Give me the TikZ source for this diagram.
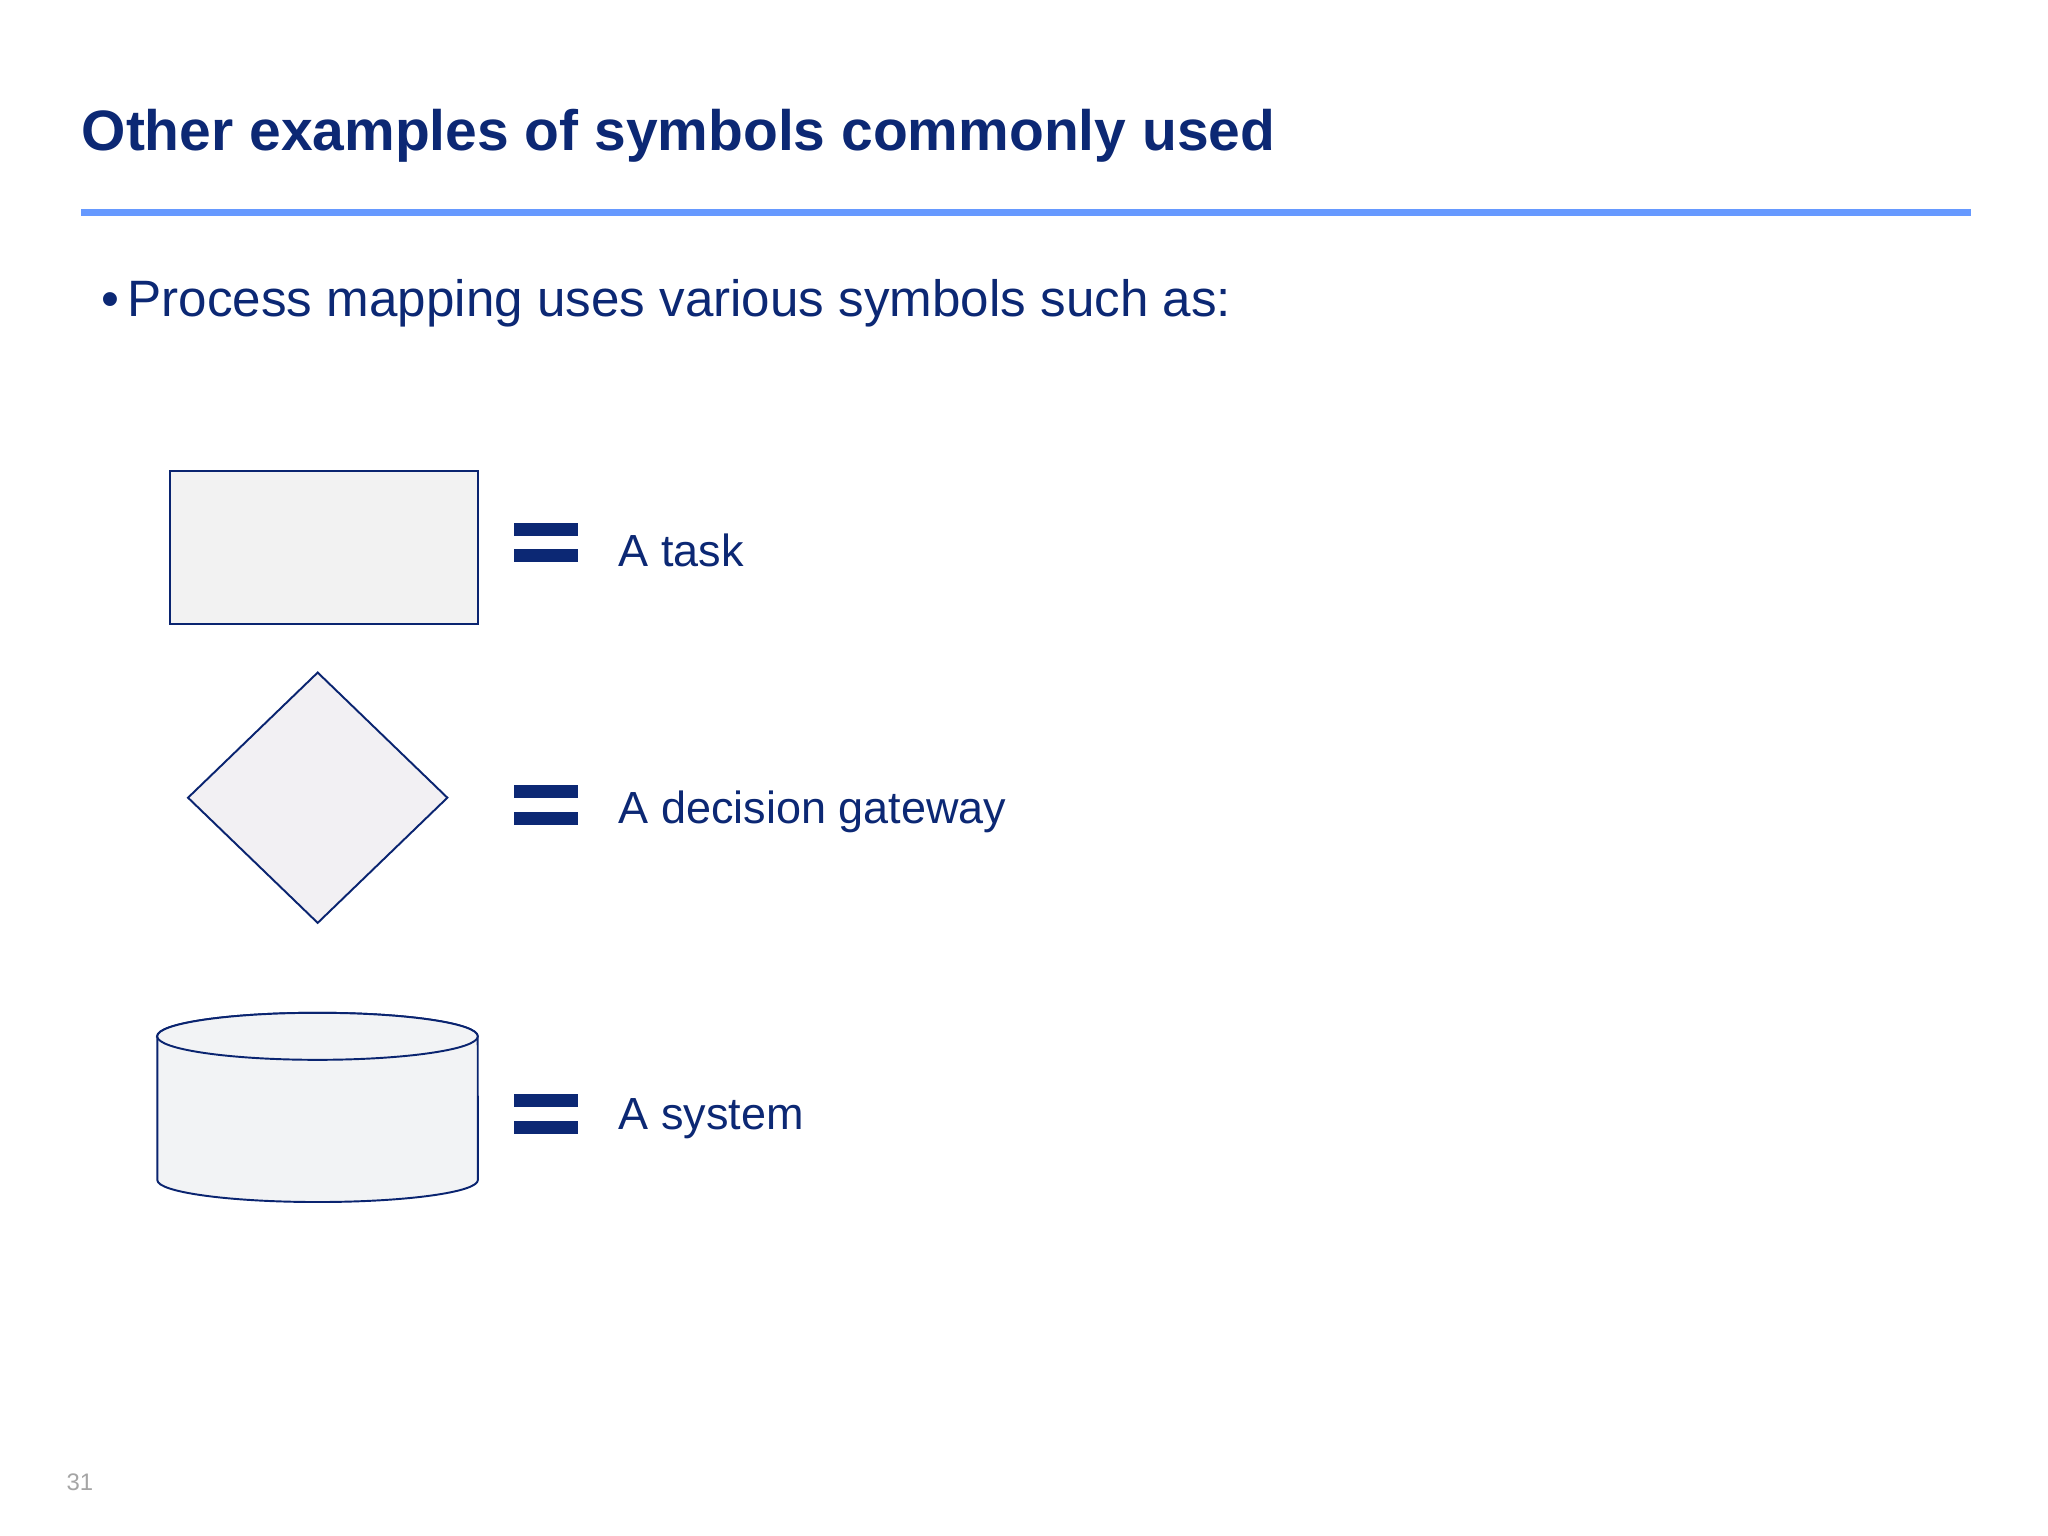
\documentclass[tikz,border=0pt]{standalone}
\usepackage{fontspec}
\setmainfont{Liberation Sans}
\usetikzlibrary{shapes.geometric}
\definecolor{navy}{RGB}{12,40,116}
\definecolor{shapeline}{RGB}{10,36,112}
\definecolor{rulecol}{RGB}{102,153,255}
\definecolor{pagegray}{RGB}{165,165,165}
\definecolor{rectfill}{RGB}{242,242,242}
\definecolor{diafill}{RGB}{242,240,243}
\definecolor{cylfill}{RGB}{242,243,245}
\tikzset{
  txt/.style={anchor=base west, inner sep=0pt, text=navy},
  titletxt/.style={txt, font=\bfseries\fontsize{16.2pt}{19pt}\selectfont},
  bullettxt/.style={txt, font=\fontsize{14.55pt}{17pt}\selectfont},
  labeltxt/.style={txt, font=\fontsize{12.8pt}{15pt}\selectfont},
  eqbar/.style={fill=navy, draw=none},
  symshape/.style={draw=shapeline, line width=0.55pt},
}
\begin{document}
\begin{tikzpicture}[x=0.01cm, y=-0.01cm]
\useasboundingbox[fill=white] (0,0) rectangle (2048,1536);

% title and rule
\node[titletxt] (title) at (81,150) {Other examples of symbols commonly used};
\fill[rulecol] (81,209.3) rectangle (1971,215.7);

% bullet line
\node[bullettxt] (bullet) at (101,316) {•};
\node[bullettxt] (intro) at (127,316) {Process mapping uses various symbols such as:};

% task rectangle
\node[symshape, fill=rectfill, rectangle, minimum width=3.08cm, minimum height=1.53cm, inner sep=0pt] (task) at (324,547.5) {};
\fill[eqbar] (514,523) rectangle (578,536);
\fill[eqbar] (514,549) rectangle (578,562);
\node[labeltxt] (tasklbl) at (618,566) {A task};

% decision diamond
\node[symshape, fill=diafill, diamond, aspect=1.035, minimum width=2.6cm, minimum height=2.51cm, inner sep=0pt] (gate) at (317.7,797.7) {};
\fill[eqbar] (514,785) rectangle (578,798);
\fill[eqbar] (514,811.7) rectangle (578,824.7);
\node[labeltxt] (gatelbl) at (618,823) {A decision gateway};

% system cylinder
\filldraw[symshape, fill=cylfill] (157.3,1036.3) -- (157.3,1180)
  arc[start angle=180, end angle=360, x radius=1.602cm, y radius=0.22cm]
  -- (477.7,1036.3)
  arc[start angle=0, end angle=180, x radius=1.602cm, y radius=0.235cm] -- cycle;
\filldraw[symshape, fill=cylfill] (317.5,1036.3) ellipse[x radius=1.602cm, y radius=0.235cm];
\coordinate (system) at (317.5,1110);
\fill[eqbar] (514,1094.3) rectangle (578,1107.3);
\fill[eqbar] (514,1120.7) rectangle (578,1134);
\node[labeltxt] (syslbl) at (618,1129) {A system};

% page number
\node[anchor=base west, inner sep=0pt, text=pagegray, font=\fontsize{6.8pt}{8pt}\selectfont] (pagenum) at (66,1490) {31};
\end{tikzpicture}
\end{document}
